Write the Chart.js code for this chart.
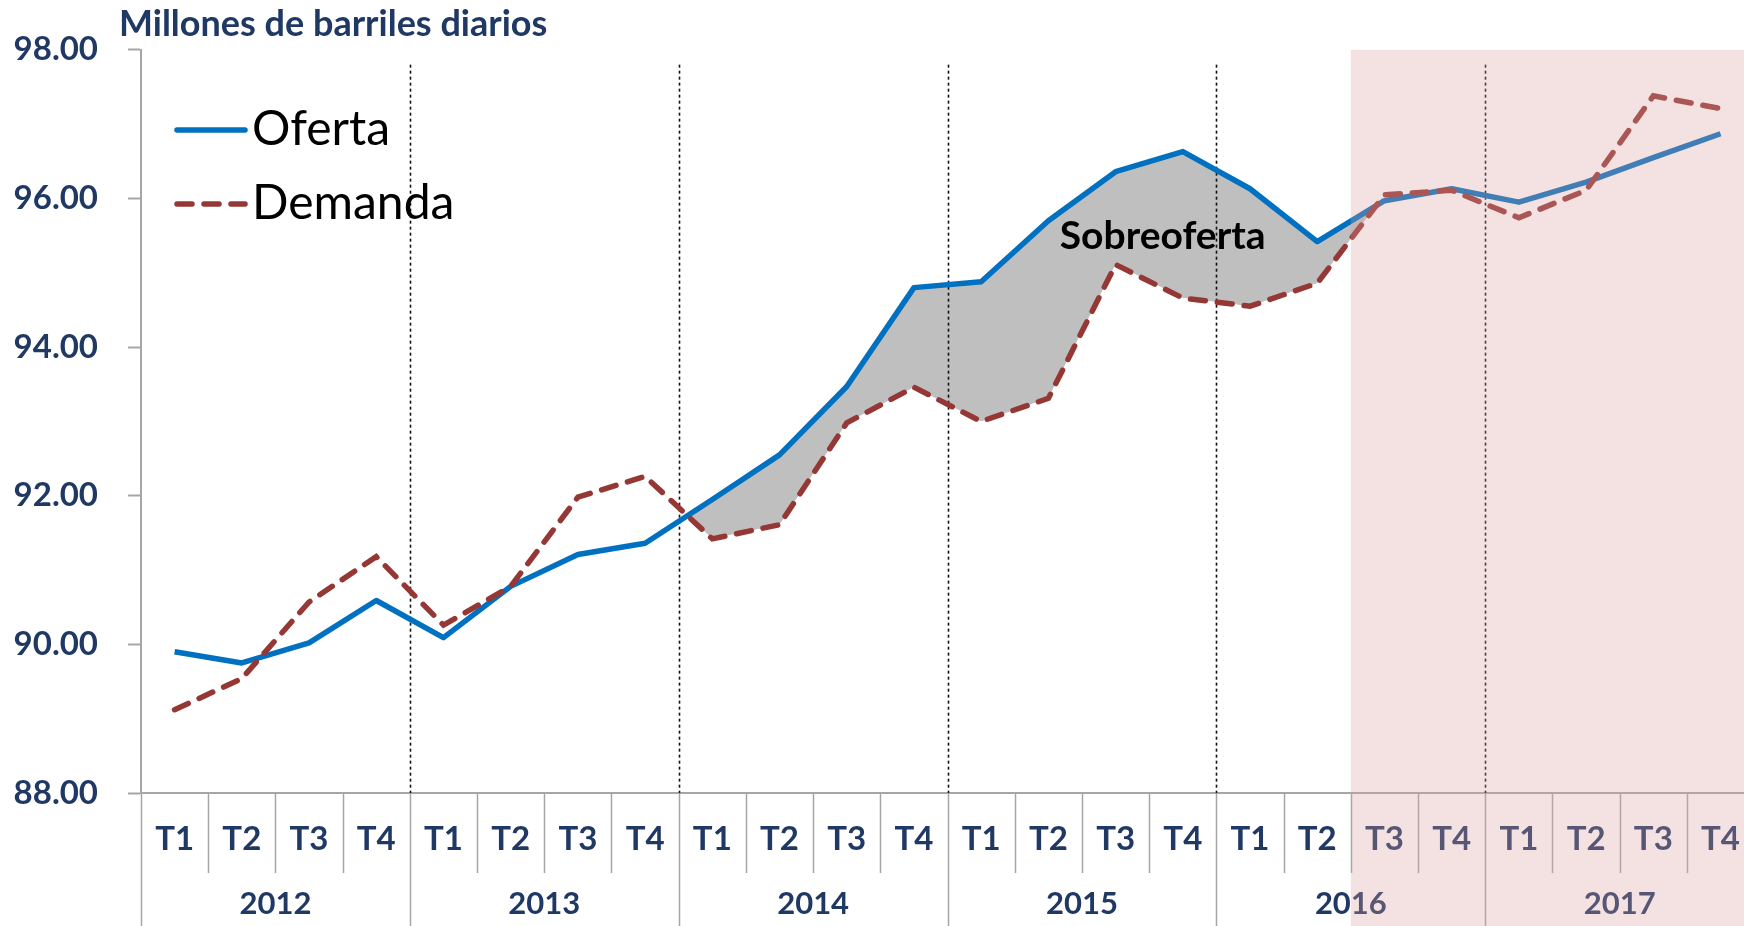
<!DOCTYPE html>
<html>
<head>
<meta charset="utf-8">
<script src="https://cdn.jsdelivr.net/npm/chart.js@4.4.0/dist/chart.umd.min.js"></script>
<style>
  html, body { margin: 0; padding: 0; background: #fff; }
  #wrap { width: 1744px; height: 926px; overflow: hidden; }
  #chart { display: block; }
</style>
</head>
<body>
<div id="wrap"><canvas id="chart" width="1767" height="926"></canvas></div>
<script>
const YEARS = ["2012", "2013", "2014", "2015", "2016", "2017"];
const QUARTERS = ["T1", "T2", "T3", "T4"];
// millones de barriles diarios, por trimestre
const OFERTA = [89.90, 89.75, 90.02, 90.59, 90.09, 90.78, 91.21, 91.36, 91.95, 92.55, 93.47, 94.80,
                94.88, 95.70, 96.36, 96.63, 96.13, 95.42, 95.97, 96.13, 95.95, 96.22, 96.55, 96.87];
const DEMANDA = [89.12, 89.54, 90.57, 91.18, 90.26, 90.78, 91.98, 92.26, 91.42, 91.61, 92.98, 93.46,
                 93.00, 93.31, 95.11, 94.66, 94.55, 94.86, 96.05, 96.11, 95.74, 96.11, 97.38, 97.21];
const Y_MIN = 88, Y_MAX = 98, Y_STEP = 2;
const SOBRE_FROM = 7, SOBRE_TO = 18;   // tramo sombreado
const PROYECCION_FROM = 18;            // 2016 T3 en adelante

const NAVY = "#1f3864";
const GRAY = "#a6a6a6";
const BLUE = "#0070c0";
const RED = "#953735";
const FONT = "Lato";

const labels = YEARS.flatMap(() => QUARTERS);
const sombra = OFERTA.map((v, i) => (i >= SOBRE_FROM && i <= SOBRE_TO ? v : null));

const decor = {
  id: "decor",
  afterDatasetDraw(chart, args) {
    if (args.index !== 2) return;
    // separadores de año punteados
    const {ctx, chartArea, scales: {x, y}} = chart;
    ctx.save();
    ctx.strokeStyle = "#111";
    ctx.lineWidth = 1.6;
    ctx.setLineDash([3, 3]);
    for (let i = QUARTERS.length; i < labels.length; i += QUARTERS.length) {
      const px = Math.round(x.getPixelForValue(i - 0.5)) + 0.5;
      ctx.beginPath();
      ctx.moveTo(px, y.getPixelForValue(97.8));
      ctx.lineTo(px, chartArea.bottom);
      ctx.stroke();
    }
    ctx.restore();
  },
  afterDraw(chart) {
    const {ctx, chartArea, scales: {x, y}} = chart;
    const H = chart.height;
    ctx.save();

    // lineas bajo el eje
    ctx.strokeStyle = GRAY;
    ctx.lineWidth = 1.5;
    for (let i = 0; i <= labels.length; i++) {
      const px = Math.round(x.getPixelForValue(i - 0.5)) + 0.5;
      const yearEdge = i % QUARTERS.length === 0;
      ctx.beginPath();
      ctx.moveTo(px, chartArea.bottom);
      ctx.lineTo(px, yearEdge ? H : chartArea.bottom + 80);
      ctx.stroke();
    }

    // años
    ctx.fillStyle = NAVY;
    ctx.font = `bold 31px ${FONT}`;
    ctx.textAlign = "center";
    ctx.textBaseline = "middle";
    YEARS.forEach((yr, k) => {
      const cx = x.getPixelForValue(k * QUARTERS.length + (QUARTERS.length - 1) / 2);
      ctx.fillText(yr, cx, chartArea.bottom + 111);
    });

    // titulo
    ctx.textAlign = "left";
    ctx.font = `bold 36px ${FONT}`;
    ctx.fillText("Millones de barriles diarios", 119, 24);

    // leyenda
    const items = [
      {text: "Oferta", color: BLUE, dash: [], y: 130},
      {text: "Demanda", color: RED, dash: [15, 12], y: 204}
    ];
    items.forEach(it => {
      ctx.strokeStyle = it.color;
      ctx.lineWidth = 5.5;
      ctx.lineCap = "round";
      ctx.setLineDash(it.dash);
      ctx.beginPath();
      ctx.moveTo(177, it.y);
      ctx.lineTo(245, it.y);
      ctx.stroke();
      ctx.setLineDash([]);
      ctx.fillStyle = "#000";
      ctx.font = `48px ${FONT}`;
      ctx.fillText(it.text, 252, it.y);
    });

    // etiqueta
    ctx.font = `bold 39px ${FONT}`;
    ctx.textAlign = "center";
    ctx.fillStyle = "#000";
    ctx.fillText("Sobreoferta", x.getPixelForValue(14.7), y.getPixelForValue(95.49));

    // zona de proyeccion
    ctx.fillStyle = "rgba(218,158,158,0.3)";
    const x0 = x.getPixelForValue(PROYECCION_FROM - 0.5);
    ctx.fillRect(x0, chartArea.top, chart.width - x0, H - chartArea.top);

    ctx.restore();
  }
};

new Chart(document.getElementById("chart"), {
  type: "line",
  data: {
    labels: labels,
    datasets: [
      {
        label: "Oferta",
        data: OFERTA,
        borderColor: BLUE,
        borderWidth: 5.5,
        borderJoinStyle: "round",
        pointRadius: 0,
        tension: 0,
        fill: false,
        order: 2
      },
      {
        label: "Demanda",
        data: DEMANDA,
        borderColor: RED,
        borderWidth: 5.5,
        borderDash: [15, 12],
        borderCapStyle: "round",
        pointRadius: 0,
        tension: 0,
        fill: false,
        order: 1
      },
      {
        label: "Sobreoferta",
        data: sombra,
        borderWidth: 0,
        borderColor: "rgba(0,0,0,0)",
        pointRadius: 0,
        tension: 0,
        spanGaps: false,
        fill: {target: 1, above: "#bfbfbf", below: "rgba(0,0,0,0)"},
        order: 3
      }
    ]
  },
  options: {
    responsive: false,
    animation: false,
    layout: { padding: { top: 48, left: 0, right: 0, bottom: 0 } },
    plugins: {
      legend: { display: false },
      tooltip: { enabled: false },
      title: { display: false }
    },
    scales: {
      x: {
        type: "category",
        offset: true,
        grid: { display: false, drawTicks: false },
        border: { display: true, color: GRAY, width: 2 },
        ticks: {
          color: NAVY,
          font: { family: FONT, weight: "bold", size: 33 },
          padding: 27,
          maxRotation: 0,
          autoSkip: false
        },
        afterFit(scale) { scale.height = 133; }
      },
      y: {
        min: Y_MIN,
        max: Y_MAX,
        ticks: {
          stepSize: Y_STEP,
          callback: v => v.toFixed(2),
          color: NAVY,
          font: { family: FONT, weight: "bold", size: 33 },
          padding: 30
        },
        grid: { drawOnChartArea: false, drawTicks: true, tickLength: 13, color: GRAY, tickColor: GRAY, tickWidth: 2 },
        border: { color: GRAY, width: 2 },
        afterFit(scale) { scale.width = 141; }
      }
    }
  },
  plugins: [decor]
});
</script>
</body>
</html>
